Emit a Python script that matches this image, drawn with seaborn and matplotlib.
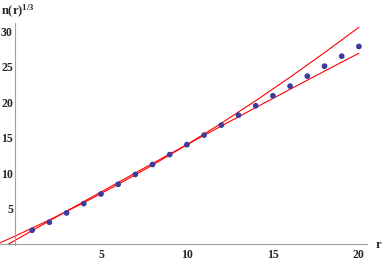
import matplotlib
matplotlib.use("Agg")
import matplotlib.pyplot as plt
import seaborn as sns
from matplotlib.ticker import FixedLocator, MultipleLocator

# data points: cube root of n(r)
r = list(range(1, 21))
n_cbrt = [1.93, 3.06, 4.37, 5.68, 7.04, 8.41, 9.80, 11.20, 12.60, 14.00,
          15.35, 16.76, 18.15, 19.48, 20.89, 22.25, 23.66, 25.07, 26.48, 27.85]

# two fitted curves
fit_r = [-0.9, 0, 2, 4, 6, 8, 10, 12, 14, 16, 18, 20]
fit_low = [-0.74, 0.50, 3.25, 5.97, 8.67, 11.35, 14.00, 16.63, 19.23, 21.81, 24.37, 26.90]
fit_high = [0.12, 1.10, 3.38, 5.82, 8.40, 11.12, 14.00, 17.02, 20.20, 23.52, 26.98, 30.55]

x_ticks = [5, 10, 15, 20]
y_ticks = [5, 10, 15, 20, 25, 30]

sns.set_style("white")
plt.rcParams["font.family"] = ["Liberation Serif", "DejaVu Serif"]
plt.rcParams["font.weight"] = "bold"
plt.rcParams["mathtext.fontset"] = "custom"
plt.rcParams["mathtext.rm"] = "Liberation Serif"
plt.rcParams["mathtext.bf"] = "Liberation Serif:bold"

fig = plt.figure(figsize=(3.82, 2.62), dpi=100)
ax = fig.add_axes([0, 0.0649, 0.9607, 0.8485])

sns.lineplot(x=fit_r, y=fit_low, color="red", lw=0.8, ax=ax)
sns.lineplot(x=fit_r, y=fit_high, color="red", lw=0.8, ax=ax)
sns.scatterplot(x=r, y=n_cbrt, color="#3c3c9c", s=17, edgecolor="none",
                ax=ax, zorder=3)

ax.set_xlim(-0.87, 20.47)
ax.set_ylim(-0.15, 31.2)

# Mathematica-style axes crossing at the origin
for side in ["top", "right"]:
    ax.spines[side].set_visible(False)
ax.spines["left"].set_position(("data", 0))
ax.spines["bottom"].set_position(("data", 0))
for side in ["left", "bottom"]:
    ax.spines[side].set_color("#a0a0a0")
    ax.spines[side].set_linewidth(0.8)

ax.xaxis.set_major_locator(FixedLocator(x_ticks))
ax.yaxis.set_major_locator(FixedLocator(y_ticks))
ax.xaxis.set_minor_locator(MultipleLocator(1))
ax.yaxis.set_minor_locator(MultipleLocator(1))
ax.tick_params(which="both", direction="in", color="#a0a0a0", width=0.6,
               labelsize=8.5)
ax.tick_params(which="major", length=3.5)
ax.tick_params(which="minor", length=2)
ax.tick_params(axis="x", pad=4)
ax.tick_params(axis="y", pad=1.5)
ax.set_xlabel("")
ax.set_ylabel("")

fig.text(0.003, 0.943, r"$\mathbf{n(r)^{1/3}}$", fontsize=9, va="baseline")
fig.text(0.99, 0.065, "r", fontsize=9, fontweight="bold", ha="center", va="center")

fig.savefig("out.png", dpi=100)
plt.close(fig)
